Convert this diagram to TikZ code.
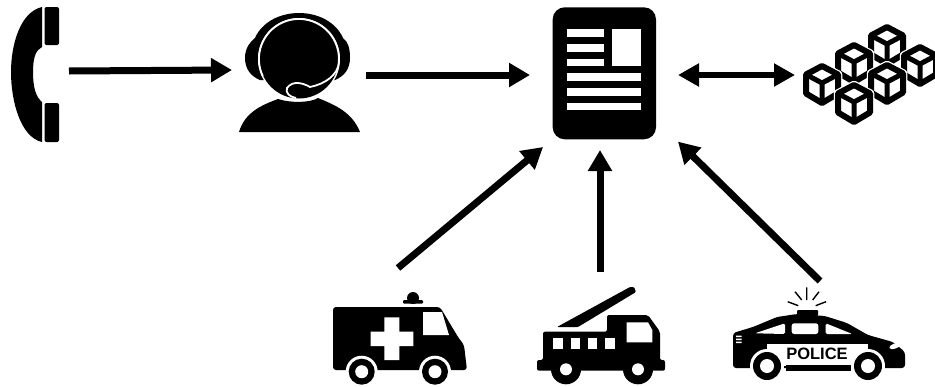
\documentclass[tikz,border=0pt]{standalone}
\usepackage{fontspec}
\setsansfont{Liberation Sans}
\usepackage{xcolor}
\usepackage{tikz}
\usetikzlibrary{arrows.meta,positioning}
\tikzset{
  icon/.style={inner sep=0pt,outer sep=0pt},
  flow/.style={line width=7pt,-{Triangle[length=21pt,width=23pt]}},
  flowboth/.style={line width=6pt,{Triangle[length=21pt,width=22pt]}-{Triangle[length=21pt,width=22pt]}},
  cutout/.style={fill=white,draw=none},
  blockcube/.pic={
    \draw[white,line width=8.5pt,line join=round,fill=white] (0,-18) -- (16,-9.5) -- (16,9.5) -- (0,19) -- (-16,9.5) -- (-16,-9.5) -- cycle;
    \draw[black,line width=6pt,line join=round,fill=white] (0,-18) -- (16,-9.5) -- (16,9.5) -- (0,19) -- (-16,9.5) -- (-16,-9.5) -- cycle;
    \draw[black,line width=5pt,line join=round] (-16,-9.5) -- (0,-1) -- (16,-9.5) (0,-1) -- (0,19);
  }
}
\begin{document}
\begin{tikzpicture}[x=1pt,y=-1pt]
\useasboundingbox (0,0) rectangle (935,386);

\node[icon,minimum width=78pt,minimum height=140pt] (phone) at (30,71) {};
\node[icon,minimum width=134pt,minimum height=130pt] (agent) at (299,70) {};
\node[icon,minimum width=148pt,minimum height=150pt] (doc) at (604,75) {};
\node[icon,minimum width=142pt,minimum height=100pt] (blocks) at (866,75) {};
\node[icon,minimum width=140pt,minimum height=134pt] (ambulance) at (398,335) {};
\node[icon,minimum width=130pt,minimum height=116pt] (firetruck) at (600,330) {};
\node[icon,minimum width=170pt,minimum height=116pt] (policecar) at (820,339) {};

% phone
\fill (42,7) .. controls (20,12) and (11,45) .. (11,72) .. controls (11,100) and (20,137) .. (42,142) -- (42,102) .. controls (36,97) and (33,88) .. (33,72) .. controls (33,57) and (36,50) .. (42,47) -- cycle;
\fill[rounded corners=2pt] (44.5,7) rectangle (59,45);
\fill[rounded corners=2pt] (44.5,103) rectangle (59,142);

% agent
\fill (260,80) .. controls (250,76) and (245,68) .. (245,58) .. controls (245,48) and (250,42) .. (255,38) .. controls (262,22) and (280,13) .. (299,13) .. controls (318,13) and (336,22) .. (343,38) .. controls (348,42) and (350,48) .. (350,58) .. controls (350,68) and (345,76) .. (335,80) -- cycle;
\fill (239,132) .. controls (245,112) and (262,105) .. (278,99) .. controls (290,103) and (310,103) .. (318,98) .. controls (335,105) and (352,112) .. (360,132) -- cycle;
\path[cutout] (299,59) circle (41);
\fill (299,59) circle (39.5);
\draw[white,line width=1.8pt] (262.7,75.9) arc[start angle=155,end angle=365,radius=40] .. controls (338,75) and (325,84) .. (310,87) .. controls (303,83) and (293,80) .. (287,88) .. controls (285,93) and (290,97) .. (296,98);

% document
\fill[rounded corners=12pt] (552.7,7.3) rectangle (656,139.3);
\path[cutout] (566.7,29.3) rectangle (604,36.7);
\path[cutout] (566.7,44) rectangle (604,51.7);
\path[cutout] (566.7,59) rectangle (604,66);
\path[cutout] (611.7,29.3) rectangle (641,66);
\path[cutout] (566.7,73.3) rectangle (641,81);
\path[cutout] (566.7,88.3) rectangle (641,95.7);
\path[cutout] (566.7,102.7) rectangle (641,110.3);

% blocks
\pic at (887,45) {blockcube};
\pic at (854,63) {blockcube};
\pic at (920,65) {blockcube};
\pic at (822,84) {blockcube};
\pic at (887,83) {blockcube};
\pic at (854,103) {blockcube};

% ambulance
\fill (413,298) circle (6);
\fill[rounded corners=1pt] (403,300) rectangle (423,303.5);
\fill[rounded corners=3pt] (333,307) -- (440,307) -- (458,337) -- (464,345) -- (467,370) -- (333,370) -- cycle;
\path[cutout] (423,312) -- (442,312) -- (449,335) -- (423,335) -- cycle;
\path[cutout] (384.3,317.3) -- (399.3,317.3) -- (399.3,331.7) -- (413.3,331.7) -- (413.3,346) -- (399.3,346) -- (399.3,360) -- (384.3,360) -- (384.3,346) -- (370.7,346) -- (370.7,331.7) -- (384.3,331.7) -- cycle;
\path[cutout] (361.7,371.7) circle (16) (435,371.7) circle (16);
\fill (361.7,371.7) circle (13) (435,371.7) circle (13);
\path[cutout] (361.7,371.7) circle (6.5) (435,371.7) circle (6.5);

% fire truck
\fill[rounded corners=1pt] (557,327) -- (630,287) -- (634,287) -- (636,292) -- (578,327) -- cycle;
\fill[rounded corners=2pt] (543,331.7) -- (607,331.7) -- (607,315) -- (648,315) -- (660,331.7) -- (660,360) -- (665,360) -- (665,370.7) -- (537,370.7) -- (537,360) -- (543,360) -- cycle;
\fill (566,369.3) circle (15) (638,369.3) circle (15);
\path[cutout] (553.3,338.3) rectangle (562.7,349.3);
\path[cutout] (570.7,338.3) rectangle (580,349.3);
\path[cutout] (588,338.3) rectangle (597.3,349.3);
\path[cutout] (605.3,338.3) rectangle (614.7,349.3);
\path[cutout] (626.7,322.3) -- (648,322.3) -- (652.3,330) -- (652.3,342.3) -- (626.7,342.3) -- cycle;
\path[cutout] (566,369.3) circle (6) (638,369.3) circle (6);

% police car
\draw[line width=1.4pt] (806.7,287.3) -- (806.7,300) (795,291.7) -- (801.7,300) (819,291.7) -- (812.7,300) (787.7,301.7) -- (798.3,305.7) (826,301.7) -- (815.7,305.7);
\fill[rounded corners=1pt] (797,310) rectangle (818,316);
\fill[rounded corners=3pt] (733,368) -- (733,333) -- (753,327) -- (777,317) -- (797,314) -- (825,316) -- (847,323) -- (868,335) -- (893,342) -- (905,352) -- (905,368) -- cycle;
\path[cutout] (767,366) circle (17) (868,366) circle (17);
\path[cutout] (767,344.3) rectangle (868,366);
\fill (786,364.5) rectangle (851,370.5);
\path[cutout,rounded corners=1.5pt] (755,333.3) -- (785,323.3) -- (785,334) -- cycle;
\path[cutout,rounded corners=2.5pt] (791.7,323.3) rectangle (818.3,334);
\path[cutout,rounded corners=1.5pt] (825.7,323.3) -- (852.3,334) -- (825.7,334) -- cycle;
\path[cutout,rotate around={20:(895,346)}] (895,346) ellipse (6 and 2.5);
\path[cutout] (736,335.5) rectangle (741.5,337) (736,338.5) rectangle (741.5,340) (736,341.5) rectangle (741.5,343);
\fill (767,366) circle (14) (868,366) circle (14);
\path[cutout] (767,366) circle (7) (868,366) circle (7);
\node[icon,font=\sffamily\bfseries\fontsize{16.5}{17}\selectfont] (policetext) at (817,354) {POLICE};

% connectors
\draw[flow] (phone.east) -- (agent.west);
\draw[flow] (agent.east |- doc.west) -- (doc.west);
\draw[flowboth] (doc.east) -- (blocks.west);
\draw[flow] (ambulance.north) -- ([shift={(2pt,3pt)}]doc.230);
\draw[flow] (firetruck.north) -- (firetruck.north |- doc.south);
\draw[flow] (policecar.north) -- (doc.318.3);
\end{tikzpicture}
\end{document}
